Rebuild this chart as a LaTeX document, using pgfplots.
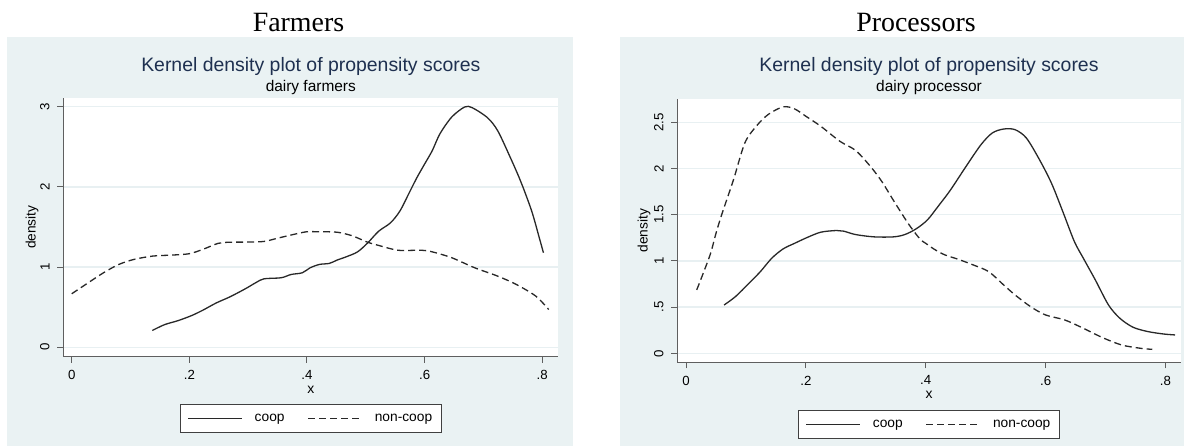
\documentclass[border=0pt]{standalone}
\usepackage{pgfplots}
\pgfplotsset{compat=1.18}
\usepackage{fontspec}
\setmainfont{Liberation Sans}
\newfontfamily\timesf{Liberation Serif}

\definecolor{panelbg}{RGB}{234,242,243}
\definecolor{gridc}{RGB}{232,240,242}
\definecolor{titlec}{RGB}{30,48,80}
\definecolor{axisc}{RGB}{95,95,95}
\definecolor{curvec}{RGB}{40,40,40}

\pgfplotsset{
  statastyle/.style={
    scale only axis, anchor=south west,
    axis lines*=left,
    axis line style={axisc, line width=1.2bp},
    tick align=outside, major tick length=6bp,
    tick style={axisc, line width=1bp},
    ymajorgrids, grid style={gridc, line width=1.5bp},
    axis background/.style={fill=white},
    tick label style={font=\fontsize{13.3}{15}\selectfont, /pgf/number format/assume math mode=true},
    xticklabel style={anchor=north, inner sep=0pt},
    yticklabel style={rotate=90, anchor=south, inner sep=0pt},
    xticklabel shift=7.3bp, yticklabel shift=7.5bp,
    xtick={0,0.2,0.4,0.6,0.8}, xticklabels={0,.2,.4,.6,.8},
    legend columns=2,
    legend image code/.code={\draw[#1] (0bp,0bp) -- (54bp,0bp);},
    legend style={draw=black!75, line width=0.9bp, fill=white,
      font=\fontsize{13.8}{16}\selectfont, inner xsep=7bp, inner ysep=7.5bp,
      /tikz/every odd column/.append style={column sep=10bp},
      /tikz/every even column/.append style={column sep=21bp}},
  },
  coop/.style={curvec, line width=1.3bp, solid, smooth},
  noncoop/.style={curvec, line width=1.3bp, dash pattern=on 7bp off 4bp, smooth},
}

\begin{document}
\begin{tikzpicture}[x=1bp, y=1bp]
\path[use as bounding box] (0,0) rectangle (1184,446);
\fill[panelbg] (7,0) rectangle (573,409.3);
\fill[panelbg] (620,0) rectangle (1184,409.3);

% farmers
\begin{axis}[statastyle, at={(63.3bp,89.3bp)}, width=495bp, height=259bp,
  xmin=-0.0143, xmax=0.8273, ymin=-0.117, ymax=3.112,
  ytick={0,1,2,3},
  legend style={at={(axis description cs:0.5,-0.1826)}, anchor=north}]
\addplot[coop] coordinates {
(0.137,0.21)(0.158,0.283)(0.181,0.333)(0.204,0.396)(0.223,0.463)(0.246,0.554)
(0.269,0.629)(0.295,0.729)(0.314,0.81)(0.327,0.854)(0.356,0.867)(0.373,0.908)
(0.392,0.929)(0.405,0.99)(0.421,1.033)(0.438,1.046)(0.451,1.087)(0.467,1.129)
(0.486,1.19)(0.503,1.3)(0.522,1.448)(0.542,1.552)(0.558,1.699)(0.574,1.929)
(0.587,2.117)(0.600,2.285)(0.613,2.452)(0.626,2.661)(0.646,2.870)(0.668,2.996)
(0.681,2.987)(0.707,2.862)(0.724,2.703)(0.743,2.41)(0.763,2.075)(0.782,1.699)
(0.795,1.364)(0.802,1.179)
};
\addlegendentry{coop}
\addplot[noncoop] coordinates {
(0,0.667)(0.028,0.804)(0.054,0.929)(0.08,1.033)(0.106,1.096)(0.138,1.1375)
(0.171,1.15)(0.2,1.167)(0.223,1.221)(0.249,1.296)(0.269,1.31)(0.301,1.312)
(0.327,1.32)(0.35,1.36)(0.373,1.40)(0.399,1.44)(0.42,1.44)(0.451,1.435)
(0.477,1.39)(0.503,1.31)(0.522,1.27)(0.555,1.21)(0.594,1.21)(0.613,1.19)
(0.646,1.117)(0.685,0.992)(0.724,0.888)(0.756,0.783)(0.789,0.638)(0.811,0.471)
};
\addlegendentry{non-coop}
\end{axis}

% processors
\begin{axis}[statastyle, at={(677.3bp,83.7bp)}, width=503.4bp, height=263.3bp,
  xmin=-0.0146, xmax=0.8255, ymin=-0.097, ymax=2.752,
  ytick={0,0.5,1,1.5,2,2.5}, yticklabels={0,.5,1,1.5,2,2.5},
  legend style={at={(axis description cs:0.5,-0.1812)}, anchor=north}]
\addplot[coop] coordinates {
(0.0635,0.523)(0.0825,0.614)(0.105,0.758)(0.124,0.884)(0.143,1.029)(0.162,1.13)
(0.181,1.19)(0.203,1.256)(0.225,1.311)(0.251,1.329)(0.263,1.322)(0.283,1.285)
(0.314,1.26)(0.346,1.26)(0.365,1.285)(0.384,1.347)(0.403,1.445)(0.422,1.602)
(0.441,1.765)(0.467,2.02)(0.492,2.256)(0.511,2.384)(0.530,2.427)(0.549,2.42)
(0.568,2.329)(0.590,2.093)(0.610,1.838)(0.629,1.529)(0.648,1.21)(0.663,1.029)
(0.683,0.794)(0.705,0.523)(0.724,0.379)(0.746,0.282)(0.771,0.235)(0.797,0.209)
(0.816,0.199)
};
\addlegendentry{coop}
\addplot[noncoop] coordinates {
(0.0178,0.686)(0.0286,0.866)(0.041,1.083)(0.05,1.3)(0.06,1.511)(0.079,1.875)
(0.098,2.275)(0.117,2.456)(0.137,2.584)(0.162,2.667)(0.181,2.645)(0.2,2.565)
(0.225,2.456)(0.257,2.293)(0.283,2.195)(0.308,2.02)(0.327,1.856)(0.346,1.656)
(0.371,1.402)(0.39,1.24)(0.4,1.19)(0.416,1.119)(0.432,1.065)(0.454,1.018)
(0.479,0.957)(0.505,0.884)(0.53,0.74)(0.549,0.632)(0.575,0.505)(0.6,0.415)
(0.632,0.361)(0.663,0.271)(0.695,0.17)(0.727,0.09)(0.759,0.054)(0.778,0.043)
};
\addlegendentry{non-coop}
\end{axis}

% headings and labels
\node[anchor=base, font=\timesf\fontsize{28}{30}\selectfont] at (298.5,414.5) {Farmers};
\node[anchor=base, font=\timesf\fontsize{28}{30}\selectfont] at (916,414.5) {Processors};

\node[anchor=base, text=titlec, font=\fontsize{19.5}{22}\selectfont] at (310.8,374.3) {Kernel density plot of propensity scores};
\node[anchor=base, font=\fontsize{15.5}{18}\selectfont] at (310.8,354.7) {dairy farmers};
\node[anchor=base, text=titlec, font=\fontsize{19.5}{22}\selectfont] at (929,374.3) {Kernel density plot of propensity scores};
\node[anchor=base, font=\fontsize{15.5}{18}\selectfont] at (929,354) {dairy processor};

\node[anchor=base, font=\fontsize{14}{16}\selectfont] at (310.8,52.7) {x};
\node[anchor=base, font=\fontsize{14}{16}\selectfont] at (929,47) {x};
\node[anchor=base, rotate=90, font=\fontsize{13.8}{16}\selectfont] at (35.5,218.8) {density};
\node[anchor=base, rotate=90, font=\fontsize{13.8}{16}\selectfont] at (647.5,215.4) {density};
\end{tikzpicture}
\end{document}
